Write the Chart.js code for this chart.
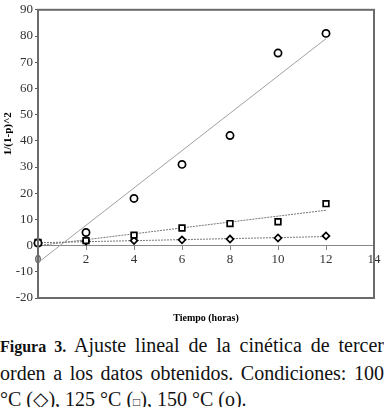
<!DOCTYPE html>
<html>
<head>
<meta charset="utf-8">
<script src="https://cdn.jsdelivr.net/npm/chart.js@4.4.0/dist/chart.umd.min.js"></script>
<style>
  body { margin: 0; background: #fff; width: 384px; overflow: hidden; }
  .wrap { width: 384px; height: 326px; position: relative; }
  .caption {
    margin-top: 6px;
    font-family: 'Times New Roman', 'Liberation Serif', 'DejaVu Serif', serif;
    font-size: 20px;
    line-height: 26px;
    color: #111;
    text-align: justify;
    text-align-last: left;
  }
  .caption b { font-size: 16px; }
  .caption .sq { font-size: 12px; }
</style>
</head>
<body>
<div class="wrap"><canvas id="myChart" width="384" height="326"></canvas></div>
<div class="caption"><b>Figura 3.</b> Ajuste lineal de la cinética de tercer orden a los datos obtenidos. Condiciones: 100 °C (◇), 125 °C (<span class="sq">□</span>), 150 °C (o).</div>
<script>
const ctx = document.getElementById('myChart');
const serif = "'Times New Roman', 'Liberation Serif', 'DejaVu Serif', serif";

// tiempo (horas)
const hours = [0, 2, 4, 6, 8, 10, 12];
// 1/(1-p)^2 por temperatura
const t100 = [1.0, 1.7, 1.9, 2.2, 2.5, 2.9, 3.7];
const t125 = [1.2, 1.9, 4.0, 6.7, 8.4, 9.1, 16.0];
const t150 = [1.0, 5.0, 18.0, 31.0, 42.0, 73.5, 81.0];

// extremos de las rectas de ajuste
const fitX = [0, 12];
const fit100 = [1.1, 3.45];
const fit125 = [0.0, 13.5];
const fit150 = [-6.5, 79.0];

const yTitle = '1/(1-p)^2';

const toPoints = (xs, ys) => xs.map((x, i) => ({ x: x, y: ys[i] }));

const frame = {
  id: 'frame',
  afterDraw(chart) {
    const a = chart.chartArea;
    const c = chart.ctx;
    c.save();
    c.strokeStyle = '#6b6b6b';
    c.lineWidth = 2;
    c.strokeRect(a.left, a.top, a.right - a.left, a.bottom - a.top);
    // titulo del eje y, un poco por encima del centro como en el original
    c.translate(8, a.top + (a.bottom - a.top) * 0.43);
    c.rotate(-Math.PI / 2);
    c.fillStyle = '#000';
    c.font = 'bold 11px ' + serif;
    c.textAlign = 'center';
    c.textBaseline = 'middle';
    c.fillText(yTitle, 0, 0);
    c.restore();
  }
};

function fitLine(ys, color, dash) {
  return {
    type: 'line',
    data: toPoints(fitX, ys),
    borderColor: color,
    borderWidth: 1,
    borderDash: dash,
    pointRadius: 0,
    fill: false,
    order: 2
  };
}

function markers(ys, style, radius) {
  return {
    type: 'scatter',
    data: toPoints(hours, ys),
    pointStyle: style,
    pointRadius: radius,
    pointBorderColor: '#000',
    pointBackgroundColor: '#fff',
    pointBorderWidth: 1.7,
    showLine: false,
    clip: false,
    order: 1
  };
}

new Chart(ctx, {
  type: 'scatter',
  data: {
    datasets: [
      fitLine(fit150, '#a0a0a0', []),
      fitLine(fit125, '#777', [2, 1]),
      fitLine(fit100, '#777', [2, 1]),
      markers(t150, 'circle', 3.6),
      markers(t125, 'rect', 4),
      markers(t100, 'rectRot', 3.5)
    ]
  },
  options: {
    responsive: false,
    animation: false,
    layout: { padding: { top: 7, right: 10, left: 0, bottom: 0 } },
    plugins: {
      legend: { display: false },
      tooltip: { enabled: false },
      title: {
        display: true,
        text: 'Tiempo (horas)',
        position: 'bottom',
        fullSize: false,
        color: '#000',
        font: { family: serif, size: 10, weight: 'bold' },
        padding: { top: 14, bottom: 2 }
      }
    },
    scales: {
      x: {
        type: 'linear',
        min: 0,
        max: 14,
        position: { y: 0 },
        ticks: {
          stepSize: 2,
          color: '#333',
          padding: 2,
          font: { family: serif, size: 13 }
        },
        grid: { drawOnChartArea: false, tickLength: 4, color: '#888' },
        border: { color: '#888', width: 1 }
      },
      y: {
        min: -20,
        max: 90,
        afterFit(scale) { scale.width = 38; },
        ticks: {
          stepSize: 10,
          color: '#333',
          padding: 2,
          font: { family: serif, size: 13 }
        },
        grid: { drawOnChartArea: false, tickLength: 3, color: '#555' },
        border: { color: '#6b6b6b', width: 2 }
      }
    }
  },
  plugins: [frame]
});
</script>
</body>
</html>
